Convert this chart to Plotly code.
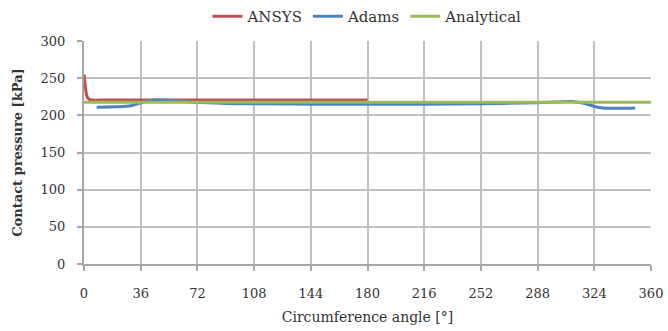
import plotly.graph_objects as go

ansys_x = [0, 0.5, 1, 1.5, 2, 3, 4, 6, 10, 30, 60, 90, 120, 150, 180]
ansys_y = [255, 246, 236, 229, 225, 222, 221, 220.5, 220.5, 220.5, 220.5, 220.5, 220.5, 220.5, 220.5]

adams_x = [8, 20, 30, 38, 45, 55, 70, 90, 110, 144, 180, 216, 252, 288, 300, 310, 318, 326, 334, 342, 350]
adams_y = [211, 211.5, 213, 218, 220.5, 220, 217.5, 216, 215.5, 215, 215, 215, 215.5, 217, 218, 218.5, 216, 211, 209.5, 209.5, 210]

analytical_x = [0, 360]
analytical_y = [217.5, 217.5]

x_ticks = [0, 36, 72, 108, 144, 180, 216, 252, 288, 324, 360]
y_ticks = [0, 50, 100, 150, 200, 250, 300]

font = "DejaVu Serif"

fig = go.Figure()
fig.add_trace(go.Scatter(x=ansys_x, y=ansys_y, mode="lines", name="ANSYS",
                         line=dict(color="#c0504d", width=3, shape="spline")))
fig.add_trace(go.Scatter(x=adams_x, y=adams_y, mode="lines", name="Adams",
                         line=dict(color="#4f81bd", width=3, shape="spline")))
fig.add_trace(go.Scatter(x=analytical_x, y=analytical_y, mode="lines", name="Analytical",
                         line=dict(color="#9bbb59", width=3)))

fig.update_layout(
    width=668, height=331,
    margin=dict(l=84, r=17, t=41, b=67, autoexpand=False),
    paper_bgcolor="white", plot_bgcolor="white",
    font=dict(family=font, size=13, color="#333"),
    legend=dict(orientation="h", x=0.5, xanchor="center", y=1.0, yanchor="top",
                yref="container", font=dict(family=font, size=15),
                tracegroupgap=0),
    showlegend=True,
)
fig.update_xaxes(range=[0, 360], tickvals=x_ticks, ticktext=[str(v) for v in x_ticks],
                 showgrid=True, gridcolor="#c0c0c0", gridwidth=2, automargin=False,
                 showline=True, linecolor="#a6a6a6", linewidth=2,
                 ticks="outside", ticklen=5, tickcolor="#a6a6a6", tickwidth=2,
                 ticklabelstandoff=11,
                 zeroline=False, tickfont=dict(family=font, size=13),
                 title=dict(text="Circumference angle [°]", font=dict(family=font, size=14), standoff=13))
fig.update_yaxes(range=[0, 300], tickvals=y_ticks, ticktext=[str(v) for v in y_ticks],
                 showgrid=True, gridcolor="#c0c0c0", gridwidth=2, automargin=False,
                 showline=True, linecolor="#a6a6a6", linewidth=2,
                 ticks="outside", ticklen=5, tickcolor="#a6a6a6", tickwidth=2,
                 ticklabelstandoff=9,
                 zeroline=False, tickfont=dict(family=font, size=13),
                 title=dict(text="<b>Contact pressure [kPa]</b>", font=dict(family=font, size=13), standoff=15))

fig.write_html("out.html")
